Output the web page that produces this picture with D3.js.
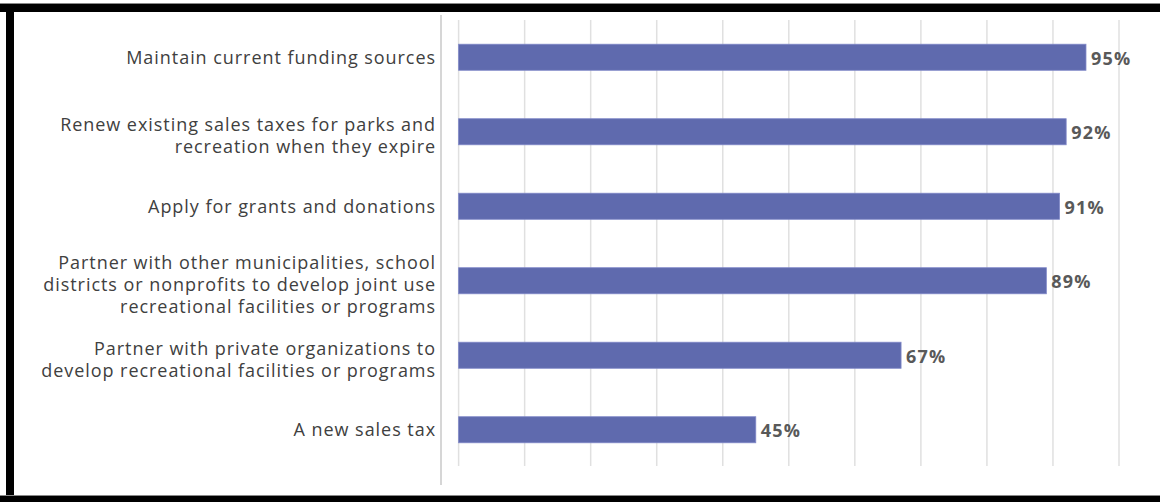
<!DOCTYPE html>
<html>
<head>
<meta charset="UTF-8">
<script src="https://cdn.jsdelivr.net/npm/d3@7"></script>
<style>
  body { margin: 0; background: #fff; }
  svg { display: block; }
</style>
</head>
<body>
<svg width="1160" height="502"></svg>
<script>
  // categories (top to bottom), each wrapped as it appears
  var categories = [
    "Maintain current funding sources",
    "Renew existing sales taxes for parks and recreation when they expire",
    "Apply for grants and donations",
    "Partner with other municipalities, school districts or nonprofits to develop joint use recreational facilities or programs",
    "Partner with private organizations to develop recreational facilities or programs",
    "A new sales tax"
  ];
  var labelLines = [
    ["Maintain current funding sources"],
    ["Renew existing sales taxes for parks and", "recreation when they expire"],
    ["Apply for grants and donations"],
    ["Partner with other municipalities, school", "districts or nonprofits to develop joint use", "recreational facilities or programs"],
    ["Partner with private organizations to", "develop recreational facilities or programs"],
    ["A new sales tax"]
  ];
  var values = [95, 92, 91, 89, 67, 45];
  var gridTicks = [0, 10, 20, 30, 40, 50, 60, 70, 80, 90, 100];

  var svg = d3.select("svg");

  var x = d3.scaleLinear().domain([0, 100]).range([458.6, 1119]);
  var y = d3.scaleBand().domain(categories).range([20, 467])
    .paddingInner(0.65).paddingOuter(0.325);

  // frame
  svg.append("rect").attr("x", 0).attr("y", 3).attr("width", 1160).attr("height", 1).attr("fill", "#888");
  svg.append("rect").attr("x", 0).attr("y", 4).attr("width", 1160).attr("height", 8).attr("fill", "#000");
  svg.append("rect").attr("x", 6).attr("y", 4).attr("width", 8).attr("height", 498).attr("fill", "#000");
  svg.append("rect").attr("x", 0).attr("y", 495).attr("width", 1160).attr("height", 1).attr("fill", "#888");
  svg.append("rect").attr("x", 0).attr("y", 496).attr("width", 1160).attr("height", 6).attr("fill", "#000");

  // gridlines
  svg.append("g").selectAll("line")
    .data(gridTicks)
    .enter().append("line")
    .attr("x1", function(d) { return x(d); })
    .attr("x2", function(d) { return x(d); })
    .attr("y1", 20).attr("y2", 466)
    .attr("stroke", "#e0e0e0").attr("stroke-width", 1.5);

  // axis line
  svg.append("line")
    .attr("x1", 441).attr("x2", 441).attr("y1", 15).attr("y2", 485)
    .attr("stroke", "#c8c8c8").attr("stroke-width", 1.5);

  // bars
  svg.append("g").selectAll("rect")
    .data(values)
    .enter().append("rect")
    .attr("x", x(0))
    .attr("y", function(d, i) { return y(categories[i]); })
    .attr("width", function(d) { return x(d) - x(0); })
    .attr("height", y.bandwidth())
    .attr("fill", "#5f6aae")
    .attr("stroke", "#8088c8").attr("stroke-width", 0.8);

  // value labels
  svg.append("g").selectAll("text")
    .data(values)
    .enter().append("text")
    .attr("x", function(d) { return x(d) + 5; })
    .attr("y", function(d, i) { return y(categories[i]) + y.bandwidth() / 2; })
    .attr("dy", "0.42em")
    .attr("font-family", "'Open Sans', sans-serif")
    .attr("font-size", 18).attr("font-weight", "bold")
    .attr("letter-spacing", 1.2)
    .attr("fill", "#595959")
    .text(function(d) { return d + "%"; });

  // category labels
  var lineH = 22;
  var lab = svg.append("g").selectAll("text")
    .data(categories)
    .enter().append("text")
    .attr("text-anchor", "end")
    .attr("font-family", "'Open Sans', sans-serif")
    .attr("font-size", 18)
    .attr("letter-spacing", 0.95)
    .attr("fill", "#404040");
  lab.each(function(d, i) {
    var lines = labelLines[i];
    var cy = y(d) + y.bandwidth() / 2;
    var top = cy - (lines.length - 1) * lineH / 2 + (lines.length > 1 ? 4 : 0);
    d3.select(this).selectAll("tspan")
      .data(lines)
      .enter().append("tspan")
      .attr("x", 436)
      .attr("y", function(l, j) { return top + j * lineH; })
      .attr("dy", "0.35em")
      .text(function(l) { return l; });
  });
</script>
</body>
</html>
